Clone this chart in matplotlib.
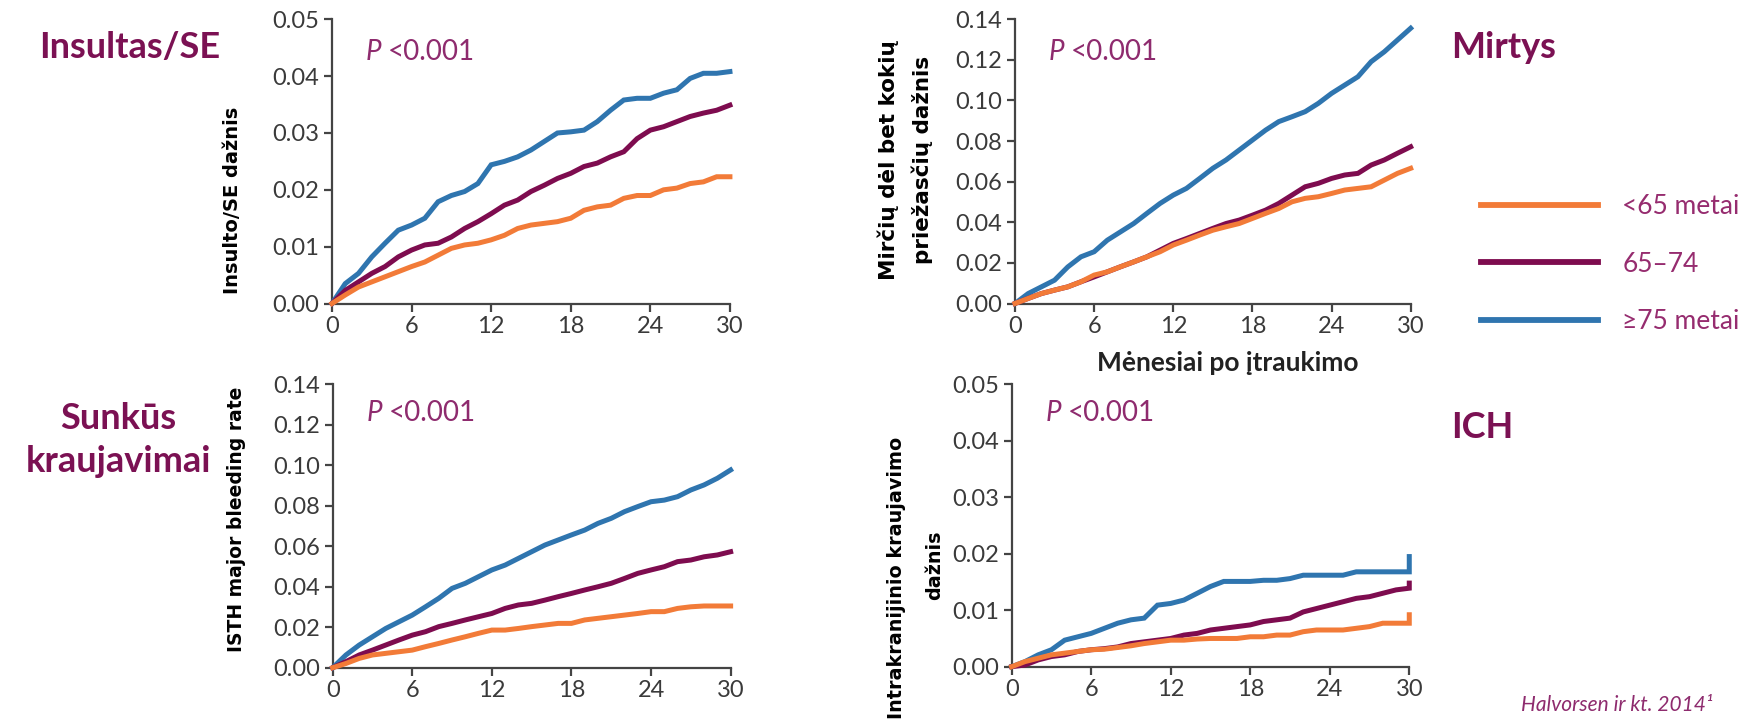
import matplotlib
matplotlib.use("Agg")
import matplotlib.pyplot as plt

# ------------------------------------------------------------------
# Data (monthly)
# ------------------------------------------------------------------
months = list(range(31))
groups = ["<65 metai", "65–74", "≥75 metai"]
colors = ["#F27B38", "#7E0C4F", "#2F75AF"]

stroke_lt65 = [0, .0015, .0029, .0038, .0047, .0056, .0065, .0073, .0085, .0097,
               .0103, .0106, .0112, .0120, .0132, .0138, .0141, .0144, .0150, .0164,
               .0170, .0173, .0185, .0190, .0190, .0200, .0203, .0211, .0214, .0223, .0223]
stroke_6574 = [0, .0023, .0038, .0053, .0065, .0082, .0094, .0103, .0106, .0117,
               .0132, .0144, .0158, .0173, .0182, .0197, .0208, .0220, .0229, .0241,
               .0247, .0258, .0267, .0290, .0305, .0311, .0320, .0329, .0335, .0340, .0349]
stroke_ge75 = [0, .0035, .0053, .0082, .0106, .0129, .0138, .0150, .0179, .0190,
               .0197, .0211, .0244, .0250, .0258, .0270, .0285, .0300, .0302, .0305,
               .0320, .0340, .0358, .0361, .0361, .0370, .0376, .0396, .0405, .0405, .0408]

death_lt65 = [0, .0025, .0049, .0066, .0082, .0107, .0140, .0156, .0181, .0205,
              .0230, .0255, .0288, .0312, .0337, .0361, .0378, .0394, .0419, .0444,
              .0468, .0501, .0518, .0526, .0542, .0559, .0567, .0575, .0608, .0641, .0666]
death_6574 = [0, .0025, .0049, .0066, .0082, .0107, .0131, .0156, .0181, .0205,
              .0230, .0263, .0296, .0320, .0345, .0370, .0394, .0411, .0435, .0460,
              .0493, .0534, .0575, .0592, .0616, .0633, .0641, .0682, .0707, .0740, .0772]
death_ge75 = [0, .0049, .0082, .0115, .0180, .0230, .0255, .0312, .0353, .0394,
              .0444, .0493, .0534, .0567, .0616, .0666, .0707, .0756, .0805, .0854,
              .0896, .0920, .0945, .0986, .1035, .1076, .1117, .1191, .1240, .1298, .1356]

bleed_lt65 = [0, .0021, .0046, .0063, .0071, .0079, .0087, .0104, .0120, .0137,
              .0153, .0170, .0186, .0186, .0194, .0203, .0211, .0219, .0219, .0236,
              .0244, .0252, .0260, .0268, .0277, .0277, .0293, .0301, .0305, .0305, .0305]
bleed_6574 = [0, .0030, .0063, .0087, .0112, .0137, .0161, .0178, .0203, .0219,
              .0236, .0252, .0268, .0293, .0310, .0318, .0334, .0351, .0367, .0384,
              .0400, .0417, .0441, .0466, .0483, .0499, .0524, .0532, .0548, .0557, .0573]
bleed_ge75 = [0, .0063, .0112, .0153, .0194, .0227, .0260, .0301, .0343, .0392,
              .0417, .0450, .0483, .0507, .0540, .0573, .0606, .0631, .0656, .0680,
              .0713, .0738, .0771, .0796, .0820, .0828, .0845, .0878, .0903, .0936, .0977]

ich_lt65 = [0, .0009, .0015, .0021, .0024, .0027, .0030, .0031, .0034, .0037,
            .0041, .0044, .0047, .0047, .0049, .0050, .0050, .0050, .0053, .0053,
            .0056, .0056, .0062, .0065, .0065, .0065, .0068, .0071, .0077, .0077, .0077]
ich_6574 = [0, .0003, .0012, .0018, .0021, .0027, .0030, .0032, .0035, .0041,
            .0044, .0047, .0050, .0056, .0059, .0065, .0068, .0071, .0074, .0080,
            .0083, .0086, .0097, .0103, .0109, .0115, .0121, .0124, .0130, .0136, .0139]
ich_ge75 = [0, .0009, .0021, .0030, .0047, .0053, .0059, .0068, .0077, .0083,
            .0086, .0109, .0112, .0118, .0130, .0142, .0151, .0151, .0151, .0153,
            .0153, .0156, .0162, .0162, .0162, .0162, .0168, .0168, .0168, .0168, .0168]
# last-day jump at month 30
ich_end = [.0092, .0148, .0195]

xticks = [0, 6, 12, 18, 24, 30]

TITLE_C = "#7B1153"
P_C = "#8E2B6E"
LEG_C = "#962C6F"
AX_C = "#444444"
SANS = ["Lato", "DejaVu Sans"]
BOLDY = "DejaVu Sans"

plt.rcParams["font.family"] = SANS

fig = plt.figure(figsize=(17.5, 7.28), dpi=100)

panels = [
    # (rect, series, ymax, yticks)
    ([0.1897, 0.5831, 0.2274, 0.3904], [stroke_lt65, stroke_6574, stroke_ge75], 0.05,
     [0, .01, .02, .03, .04, .05]),
    ([0.5800, 0.5831, 0.2261, 0.3904], [death_lt65, death_6574, death_ge75], 0.14,
     [0, .02, .04, .06, .08, .10, .12, .14]),
    ([0.1901, 0.0828, 0.2274, 0.3893], [bleed_lt65, bleed_6574, bleed_ge75], 0.14,
     [0, .02, .04, .06, .08, .10, .12, .14]),
    ([0.5781, 0.0842, 0.2272, 0.3879], [ich_lt65, ich_6574, ich_ge75], 0.05,
     [0, .01, .02, .03, .04, .05]),
]

axes = []
for i, (rect, series, ymax, yticks) in enumerate(panels):
    ax = fig.add_axes(rect)
    for j, (vals, c) in enumerate(zip(series, colors)):
        xs, ys = list(months), list(vals)
        if i == 3:
            xs.append(30)
            ys.append(ich_end[j])
        ax.plot(xs, ys, color=c, lw=3.6, solid_joinstyle="miter",
                clip_on=False, label=groups[j], zorder=3 + (2 - j))
    ax.set_xlim(0, 30)
    ax.set_ylim(0, ymax)
    ax.set_xticks(xticks)
    ax.set_yticks(yticks)
    ax.set_yticklabels(["{:.2f}".format(v) for v in yticks])
    for s in ["top", "right"]:
        ax.spines[s].set_visible(False)
    for s in ["left", "bottom"]:
        ax.spines[s].set_color(AX_C)
        ax.spines[s].set_linewidth(1.6)
    ax.tick_params(direction="out", length=6, width=1.6, color=AX_C,
                   labelcolor="#3a3a3a", labelsize=17, pad=3)
    # P value
    py = 0.885 if i < 2 else 0.90
    ax.text(0.085, py, "P", transform=ax.transAxes,
            fontsize=20, style="italic", color=P_C, ha="left", va="center")
    ax.text(0.14, py, "<0.001", transform=ax.transAxes,
            fontsize=20, color=P_C, ha="left", va="center")
    axes.append(ax)

# y labels
fig.text(233 / 1750, 1 - 200 / 728, "Insulto/SE dažnis", rotation=90,
         ha="center", va="center", fontsize=14, fontweight="bold", family=BOLDY)
fig.text(888 / 1750, 1 - 160 / 728, "Mirčių dėl bet kokių", rotation=90,
         ha="center", va="center", fontsize=15.5, fontweight="bold", family=BOLDY)
fig.text(922 / 1750, 1 - 160 / 728, "priežasčių dažnis", rotation=90,
         ha="center", va="center", fontsize=15.5, fontweight="bold", family=BOLDY)
fig.text(237 / 1750, 1 - 519 / 728, "ISTH major bleeding rate", rotation=90,
         ha="center", va="center", fontsize=13.5, fontweight="bold", family=BOLDY)
fig.text(897 / 1750, 1 - 578 / 728, "Intrakranijinio kraujavimo", rotation=90,
         ha="center", va="center", fontsize=13.8, fontweight="bold", family=BOLDY)
fig.text(935 / 1750, 1 - 565 / 728, "dažnis", rotation=90,
         ha="center", va="center", fontsize=13.8, fontweight="bold", family=BOLDY)

# x label (top-right panel only)
fig.text(1228 / 1750, 1 - 363 / 728, "Mėnesiai po įtraukimo", ha="center",
         va="center", fontsize=19, fontweight="bold", color="#222222")

# panel titles
fig.text(39 / 1750, 1 - 47 / 728, "Insultas/SE", ha="left", va="center",
         fontsize=26, fontweight="bold", color=TITLE_C)
fig.text(1451 / 1750, 1 - 47 / 728, "Mirtys", ha="left", va="center",
         fontsize=26, fontweight="bold", color=TITLE_C)
fig.text(118 / 1750, 1 - 440 / 728, "Sunkūs\nkraujavimai", ha="center",
         va="center", fontsize=26, fontweight="bold", color=TITLE_C,
         linespacing=1.4)
fig.text(1451 / 1750, 1 - 428 / 728, "ICH", ha="left", va="center",
         fontsize=26, fontweight="bold", color=TITLE_C)

# legend
leg = fig.legend(handles=axes[1].get_lines(), labels=groups,
                 loc="upper left", bbox_to_anchor=(1481 / 1750, 1 - 194 / 728),
                 frameon=False, fontsize=19, handlelength=4.45,
                 handletextpad=0.9, labelspacing=1.24, borderpad=0,
                 borderaxespad=0)
for t in leg.get_texts():
    t.set_color(LEG_C)
for h in leg.get_lines():
    h.set_linewidth(4.2)

# source
fig.text(1713 / 1750, 1 - 705 / 728, "Halvorsen ir kt. 2014¹", ha="right",
         va="center", fontsize=15, style="italic", color=P_C)

fig.savefig("out.png", dpi=100)
